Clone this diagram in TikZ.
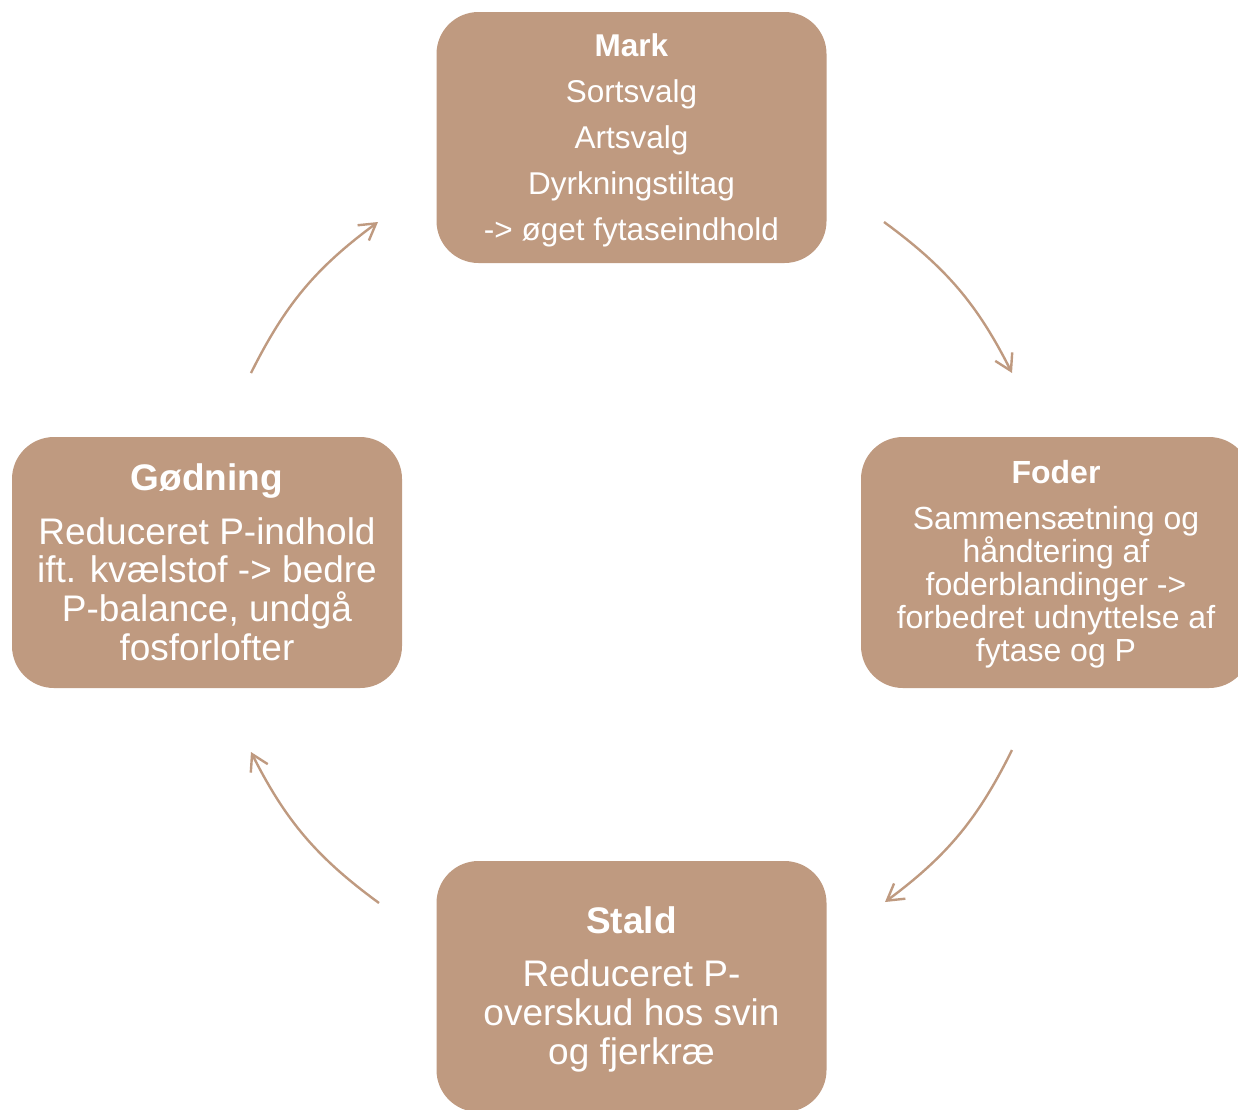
\documentclass[tikz,border=0pt]{standalone}
\usepackage{fontspec}
\setmainfont{Liberation Sans}
\usetikzlibrary{arrows.meta}
\definecolor{boxtan}{RGB}{191,154,128}
\begin{document}
\begin{tikzpicture}[x=1pt,y=-1pt,
  box/.style={fill=boxtan, rounded corners=42pt, minimum width=390pt, minimum height=251pt, inner sep=0pt},
  boxtext/.style={text=white, align=center, inner sep=0pt},
  cyc/.style={draw=boxtan, line width=2.4pt,
    -{Straight Barb[length=16pt,width=19pt,line width=2.4pt]}}]
\useasboundingbox (0,0) rectangle (1238,1109);
\clip (0,0) rectangle (1238,1109);

\node[box] (mark) at (631.5,137.5) {};
\node[box] (foder) at (1056,562.5) {};
\node[box] (godning) at (207,562.5) {};
\node[box] (stald) at (631.5,986.5) {};

\node[boxtext, font=\fontsize{31.5}{46}\selectfont, yshift=-3pt] (marktxt) at (mark.center)
  {\textbf{Mark}\\Sortsvalg\\Artsvalg\\Dyrkningstiltag\\-> øget fytaseindhold};

\node[boxtext, font=\fontsize{32}{33}\selectfont, yshift=-2pt] (fodertxt) at (foder.center)
  {\textbf{Foder}\\[13pt]Sammensætning og\\håndtering af\\foderblandinger ->\\forbedret udnyttelse af\\fytase og P};

\node[boxtext, font=\fontsize{37}{38.7}\selectfont, yshift=0.5pt] (godningtxt) at (godning.center)
  {\textbf{Gødning}\\[15pt]Reduceret P-indhold\\ift. kvælstof -> bedre\\P-balance, undgå\\fosforlofter};

\node[boxtext, font=\fontsize{37}{39}\selectfont, yshift=-3pt] (staldtxt) at (stald.center)
  {\textbf{Stald}\\[14pt]Reduceret P-\\overskud hos svin\\og fjerkræ};

\coordinate (a1s) at (884,222);  \coordinate (a1e) at (1012,373);
\coordinate (a2s) at (1012,750); \coordinate (a2e) at (885,902);
\coordinate (a3s) at (379,903);  \coordinate (a3e) at (251,752);
\coordinate (a4s) at (251,373);  \coordinate (a4e) at (378,222);

\draw[cyc] (a1s) to[bend left=13.5] (a1e);
\draw[cyc] (a2s) to[bend left=13.5] (a2e);
\draw[cyc] (a3s) to[bend left=13.5] (a3e);
\draw[cyc] (a4s) to[bend left=13.5] (a4e);
\end{tikzpicture}
\end{document}
